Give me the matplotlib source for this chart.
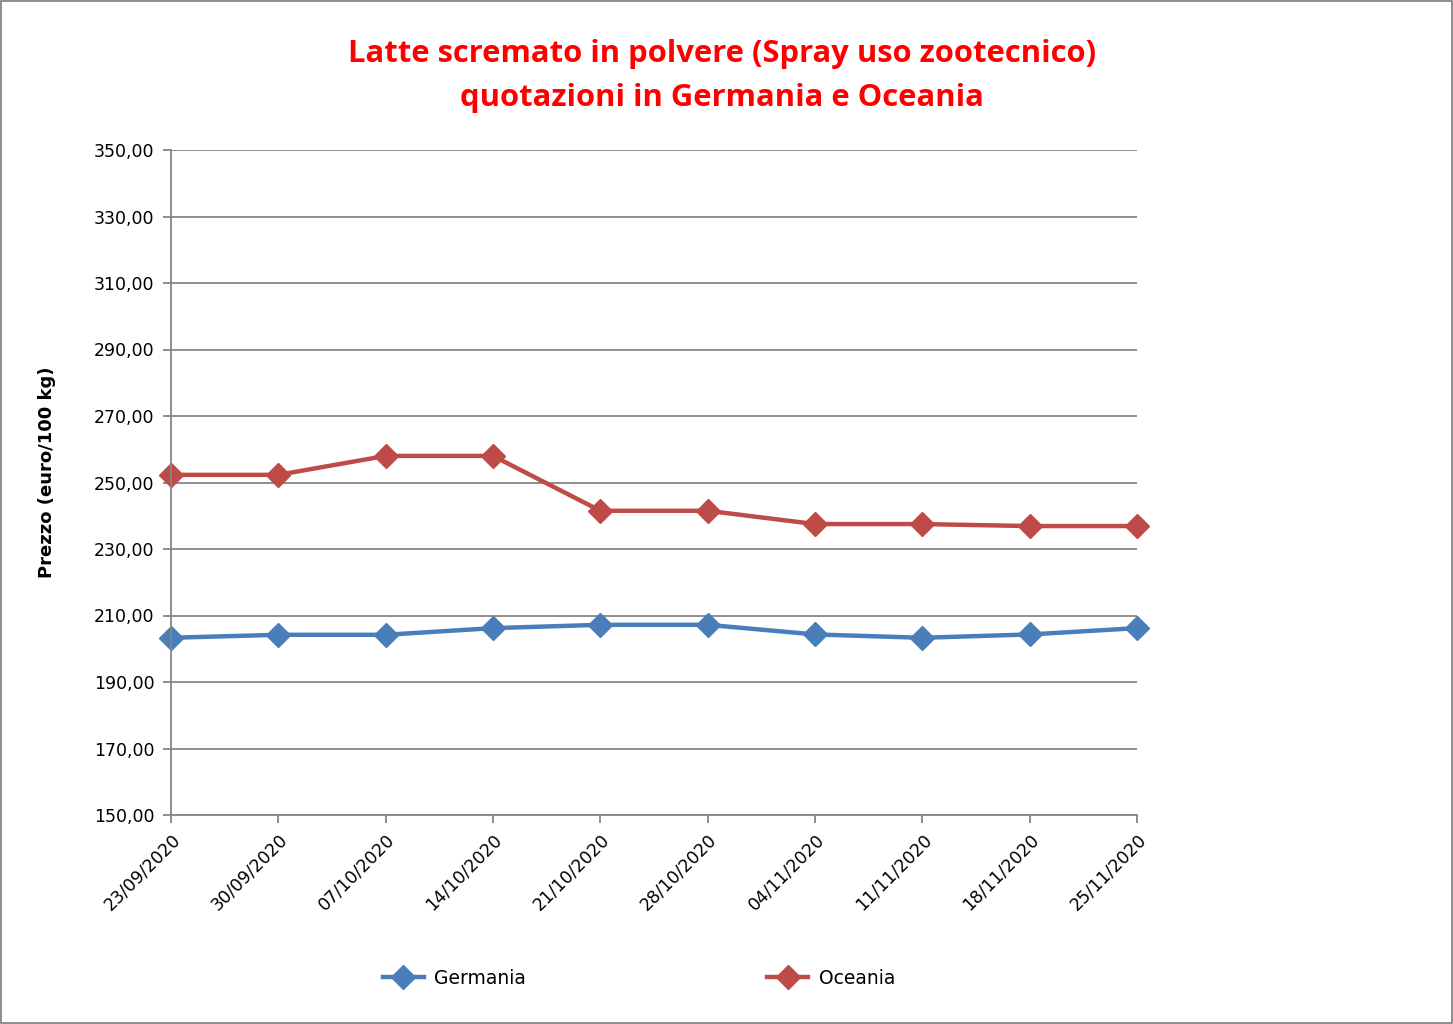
import matplotlib
matplotlib.use("Agg")
import matplotlib.pyplot as plt
from matplotlib.patches import Rectangle
from matplotlib.ticker import FuncFormatter

dates = ["23/09/2020", "30/09/2020", "07/10/2020", "14/10/2020", "21/10/2020",
         "28/10/2020", "04/11/2020", "11/11/2020", "18/11/2020", "25/11/2020"]
germania = [203.3, 204.2, 204.2, 206.2, 207.2, 207.2, 204.3, 203.3, 204.3, 206.2]
oceania = [252.3, 252.3, 258.0, 258.0, 241.5, 241.5, 237.5, 237.5, 236.9, 236.9]
yticks = [150, 170, 190, 210, 230, 250, 270, 290, 310, 330, 350]

title = "Latte scremato in polvere (Spray uso zootecnico)\nquotazioni in Germania e Oceania"
ylabel = "Prezzo (euro/100 kg)"

plt.rcParams['font.family'] = ['DejaVu Sans']

fig = plt.figure(figsize=(14.53, 10.24), dpi=100)
ax = fig.add_axes([171/1453, 1-815/1024, (1137-171)/1453, (815-150)/1024])

x = list(range(len(dates)))
blue = "#4A7EBB"
red = "#BE4B48"
ax.plot(x, germania, color=blue, lw=3.2, marker='D', markersize=12.5,
        markeredgecolor=blue, markeredgewidth=1, label="Germania", solid_joinstyle='round')
ax.plot(x, oceania, color=red, lw=3.2, marker='D', markersize=12.5,
        markeredgecolor=red, markeredgewidth=1, label="Oceania", solid_joinstyle='round')

ax.set_xlim(0, len(dates)-1)
ax.set_ylim(150, 350)
ax.set_yticks(yticks)
ax.yaxis.set_major_formatter(FuncFormatter(lambda v, p: f"{v:.2f}".replace('.', ',')))
ax.set_xticks(x)
ax.set_xticklabels(dates, rotation=45, ha='right', va='top', rotation_mode='anchor')
ax.tick_params(axis='both', direction='out', length=6, color='#868686', labelsize=12.5, width=1.3)
ax.tick_params(axis='x', pad=5)
ax.tick_params(axis='y', pad=6)
ax.grid(axis='y', color='#868686', lw=1.3)
ax.set_axisbelow(True)
for s in ['top', 'right']:
    ax.spines[s].set_visible(False)
for s in ['left', 'bottom']:
    ax.spines[s].set_color('#868686')
    ax.spines[s].set_linewidth(1.3)
for l in ax.lines:
    l.set_clip_on(False)

fig.text(47/1453, 1-472/1024, ylabel, rotation=90, ha='center', va='center',
         fontsize=13, fontweight='bold')
fig.text(722/1453, 1-76/1024, title, ha='center', va='center', color='#FF0000',
         fontsize=22.3, fontweight='bold', linespacing=1.6, family=['Open Sans', 'DejaVu Sans'])

leg = fig.legend(loc='center', bbox_to_anchor=(639/1453, 1-978/1024), ncol=2,
                 frameon=False, fontsize=13.5, columnspacing=12.85, handlelength=2.2,
                 handletextpad=0.55)

fig.patches.append(Rectangle((1/1453, 1/1024), 1-2/1453, 1-2/1024, transform=fig.transFigure,
                             fill=False, edgecolor='#868686', lw=1.3))

fig.savefig("out.png", dpi=100)
